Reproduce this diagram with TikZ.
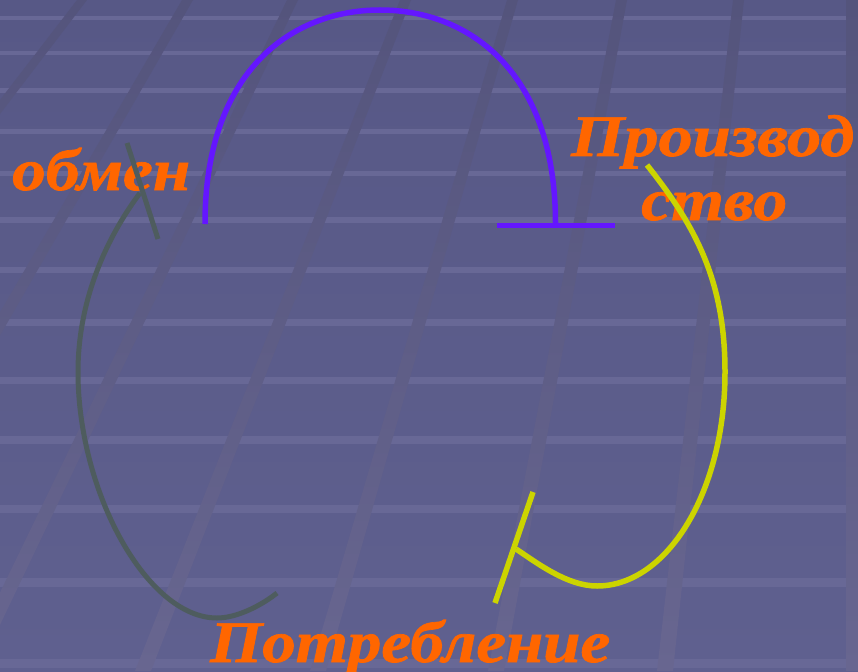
\documentclass[tikz,border=0pt]{standalone}
\usepackage{graphicx}
\usepackage{fontspec}
\newfontfamily\labfont{Liberation Serif}[BoldItalicFeatures={FakeBold=1.2}]
\definecolor{bgtop}{RGB}{87,88,134}
\definecolor{bgbot}{RGB}{95,96,143}
\definecolor{stripe}{RGB}{104,104,150}
\definecolor{diagtop}{RGB}{84,84,124}
\definecolor{diagbot}{RGB}{104,102,144}
\definecolor{arcblue}{RGB}{100,22,255}
\definecolor{arcgrey}{RGB}{78,92,94}
\definecolor{arcyellow}{RGB}{204,212,0}
\definecolor{labelorange}{RGB}{255,102,0}
\newcommand\fitlabel[2]{\resizebox{#1}{\height}{#2}}
\tikzset{
  lbl/.style={text=labelorange, font=\labfont\bfseries\itshape\fontsize{59}{63}\selectfont, inner sep=0pt, anchor=base west},
  bluearc/.style={draw=arcblue, line width=5.5pt},
  greyarc/.style={draw=arcgrey, line width=5pt},
  yellowarc/.style={draw=arcyellow, line width=5.5pt},
}
\begin{document}
\begin{tikzpicture}[x=1pt,y=-1pt]
\useasboundingbox (0,0) rectangle (858,671);
\begin{scope}
\clip (0,0) rectangle (858,671);
% background
\shade[top color=bgtop, bottom color=bgbot] (0,0) rectangle (858,671);
% horizontal stripes
\foreach \yy/\tt in {18/4,53/4,91/5,132/5,173/5,220/6,270/6,322/7,380/7,440/8,509/8,582/9,663/9}{
  \fill[stripe] (0,\yy-\tt/2) rectangle (846,\yy+\tt/2);
}
% diagonal stripes
\begin{scope}
\clip (77,0)--(87,0)--(-425,671)--(-440,671)--cycle
      (182,0)--(193,0)--(-193,671)--(-209,671)--cycle
      (287,0)--(298,0)--(-22,671)--(-38,671)--cycle
      (400,0)--(411,0)--(151,671)--(135,671)--cycle
      (507,0)--(518,0)--(326,671)--(310,671)--cycle
      (616,0)--(627,0)--(504,671)--(488,671)--cycle
      (733,0)--(744,0)--(673,671)--(657,671)--cycle
      (846,0)--(858,0)--(858,671)--(846,671)--cycle;
\shade[top color=diagtop, bottom color=diagbot] (0,0) rectangle (858,671);
\end{scope}
\end{scope}

% labels
\node[lbl] (obmen) at (12,190) {\fitlabel{178pt}{обмен}};
\node[lbl] (proizvod) at (571,156) {\fitlabel{283pt}{Производ}};
\node[lbl] (stvo) at (641,220) {\fitlabel{146pt}{ство}};
\node[lbl] (potreb) at (210,662) {\fitlabel{400pt}{Потребление}};

% blue arc
\coordinate (bL) at (205,224);
\coordinate (bT) at (380,10);
\coordinate (bR) at (555.5,224);
\draw[bluearc] (bL) .. controls (205,70) and (292.5,10) .. (bT)
                    .. controls (467.5,10) and (555.5,70) .. (bR);
\coordinate (bbar1) at (497,225.5);
\coordinate (bbar2) at (615,225.5);
\draw[bluearc] (bbar1) -- (bbar2);

% grey arc
\coordinate (gA) at (140,193);
\coordinate (gB) at (78,372);
\coordinate (gC) at (217,618);
\coordinate (gD) at (277,593);
\draw[greyarc] (gA) .. controls (113,229) and (78,292) .. (gB)
                    .. controls (78,492) and (147,618) .. (gC)
                    .. controls (237,618) and (261.4,605.4) .. (gD);
\coordinate (gt1) at (127,143);
\coordinate (gt2) at (158,239);
\draw[greyarc] (gt1) -- (gt2);

% yellow arc
\coordinate (yA) at (647,165);
\coordinate (yB) at (725,372);
\coordinate (yC) at (597,586);
\coordinate (yD) at (516,549);
\draw[yellowarc] (yA) .. controls (696.6,227.4) and (725,282) .. (yB)
                      .. controls (725,492) and (667,586) .. (yC)
                      .. controls (567,586) and (536.8,562.8) .. (yD);
\coordinate (yt1) at (533,492);
\coordinate (yt2) at (495,603);
\draw[yellowarc] (yt1) -- (yt2);
\end{tikzpicture}
\end{document}
